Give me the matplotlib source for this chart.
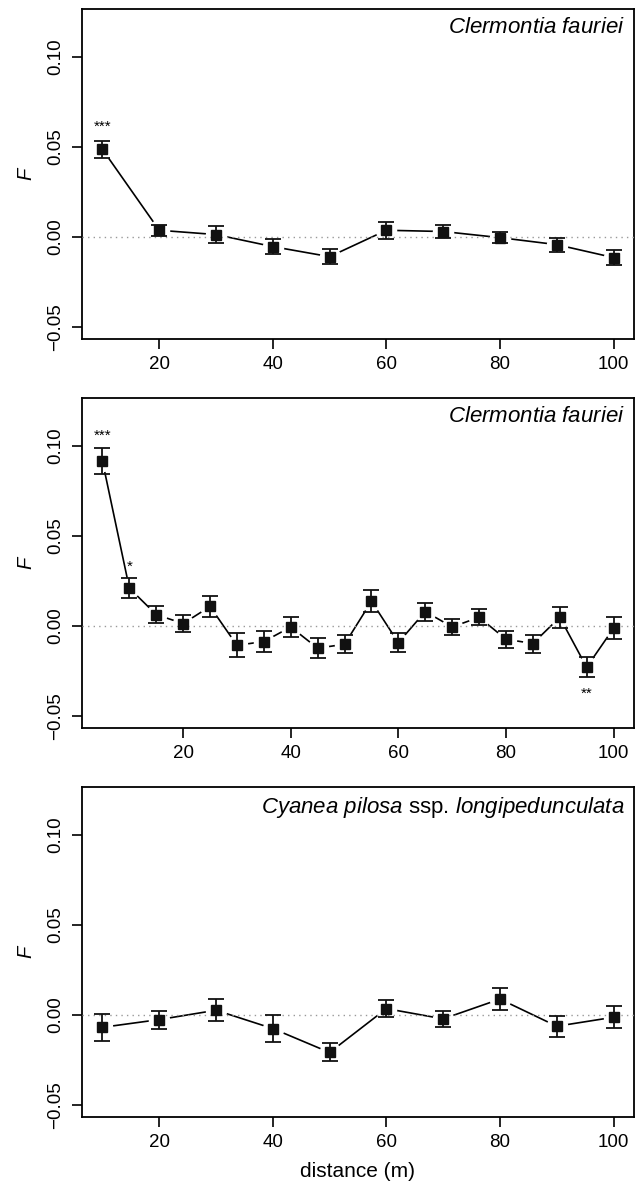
import numpy as np
import matplotlib
matplotlib.use("Agg")
import matplotlib.pyplot as plt

plt.rcParams['font.family'] = ['Liberation Sans', 'DejaVu Sans']
plt.rcParams['mathtext.fontset'] = 'custom'
plt.rcParams['mathtext.rm'] = 'Liberation Sans'
plt.rcParams['mathtext.it'] = 'Liberation Sans:italic'
plt.rcParams['axes.unicode_minus'] = True

# panel 1: Clermontia fauriei, 10 m classes
dist_a = [10, 20, 30, 40, 50, 60, 70, 80, 90, 100]
f_a = [0.0487, 0.0037, 0.0013, -0.0054, -0.0110, 0.0037, 0.0030, -0.0004, -0.0043, -0.0115]
err_a = [0.0046, 0.0030, 0.0048, 0.0042, 0.0040, 0.0046, 0.0037, 0.0032, 0.0039, 0.0040]
stars_a = {10: ("***", 0.061)}

# panel 2: Clermontia fauriei, 5 m classes
dist_b = [5, 10, 15, 20, 25, 30, 35, 40, 45, 50, 55, 60, 65, 70, 75, 80, 85, 90, 95, 100]
f_b = [0.0917, 0.0210, 0.0063, 0.0013, 0.0108, -0.0108, -0.0087, -0.0006, -0.0124, -0.0102,
       0.0137, -0.0093, 0.0080, -0.0006, 0.0048, -0.0074, -0.0098, 0.0048, -0.0230, -0.0013]
err_b = [0.0071, 0.0055, 0.0047, 0.0045, 0.0060, 0.0066, 0.0060, 0.0053, 0.0057, 0.0050,
         0.0062, 0.0054, 0.0050, 0.0045, 0.0045, 0.0047, 0.0050, 0.0058, 0.0057, 0.0060]
stars_b = {5: ("***", 0.1056), 10: ("*", 0.0327), 95: ("**", -0.0375)}

# panel 3: Cyanea pilosa ssp. longipedunculata
dist_c = [10, 20, 30, 40, 50, 60, 70, 80, 90, 100]
f_c = [-0.0069, -0.0026, 0.0026, -0.0076, -0.0209, 0.0035, -0.0022, 0.0088, -0.0063, -0.0013]
err_c = [0.0075, 0.0050, 0.0062, 0.0074, 0.0050, 0.0046, 0.0043, 0.0061, 0.0059, 0.0060]
stars_c = {}

titles = [r"$\mathit{Clermontia\ fauriei}$",
          r"$\mathit{Clermontia\ fauriei}$",
          r"$\mathit{Cyanea\ pilosa}$ ssp. $\mathit{longipedunculata}$"]

yticks = [-0.05, 0.00, 0.05, 0.10]
yticklabels = ["\u22120.05", "0.00", "0.05", "0.10"]
xticks = [20, 40, 60, 80, 100]

W, H = 640, 1186
fig = plt.figure(figsize=(W / 100, H / 100), dpi=100)

panels = [(dist_a, f_a, err_a, stars_a),
          (dist_b, f_b, err_b, stars_b),
          (dist_c, f_c, err_c, stars_c)]
tops = [9, 398, 787]
ph = 330

for i, (x, y, e, st) in enumerate(panels):
    ax = fig.add_axes([82 / W, 1 - (tops[i] + ph) / H, 552 / W, ph / H])
    xr = max(x) - min(x)
    ax.set_xlim(min(x) - 0.04 * xr, max(x) + 0.04 * xr)
    ax.set_ylim(-0.0568, 0.1268)

    ax.axhline(0, color="#999999", lw=1.0, ls=(0, (1, 3)), zorder=3)
    ax.plot(x, y, color="black", lw=1.2, zorder=1)
    # white discs to make the gaps around points (R type="b")
    ax.plot(x, y, ls="none", marker="o", ms=14.5, mfc="white", mec="white", zorder=2)
    ax.errorbar(x, y, yerr=e, fmt="none", ecolor="#111111", elinewidth=1.3,
                capsize=6, capthick=1.3, zorder=4)
    ax.plot(x, y, ls="none", marker="s", ms=7, color="#111111", zorder=5)

    for xs, (lab, ys) in st.items():
        ax.text(xs, ys, lab, ha="center", va="center", fontsize=11)

    ax.text(0.983, 0.975, titles[i], transform=ax.transAxes, ha="right", va="top",
            fontsize=16)

    ax.set_xticks(xticks)
    ax.set_yticks(yticks)
    ax.set_yticklabels(yticklabels, rotation=90, va="center")
    ax.tick_params(direction="out", length=7, width=1.2, labelsize=13.5, pad=5)
    ax.tick_params(axis="y", pad=6)
    for s in ax.spines.values():
        s.set_linewidth(1.3)
    ax.set_ylabel("F", fontstyle="italic", fontsize=14.5, labelpad=8)
    if i == 2:
        ax.set_xlabel("distance (m)", fontsize=15, labelpad=8)

fig.savefig("out.png", dpi=100)
